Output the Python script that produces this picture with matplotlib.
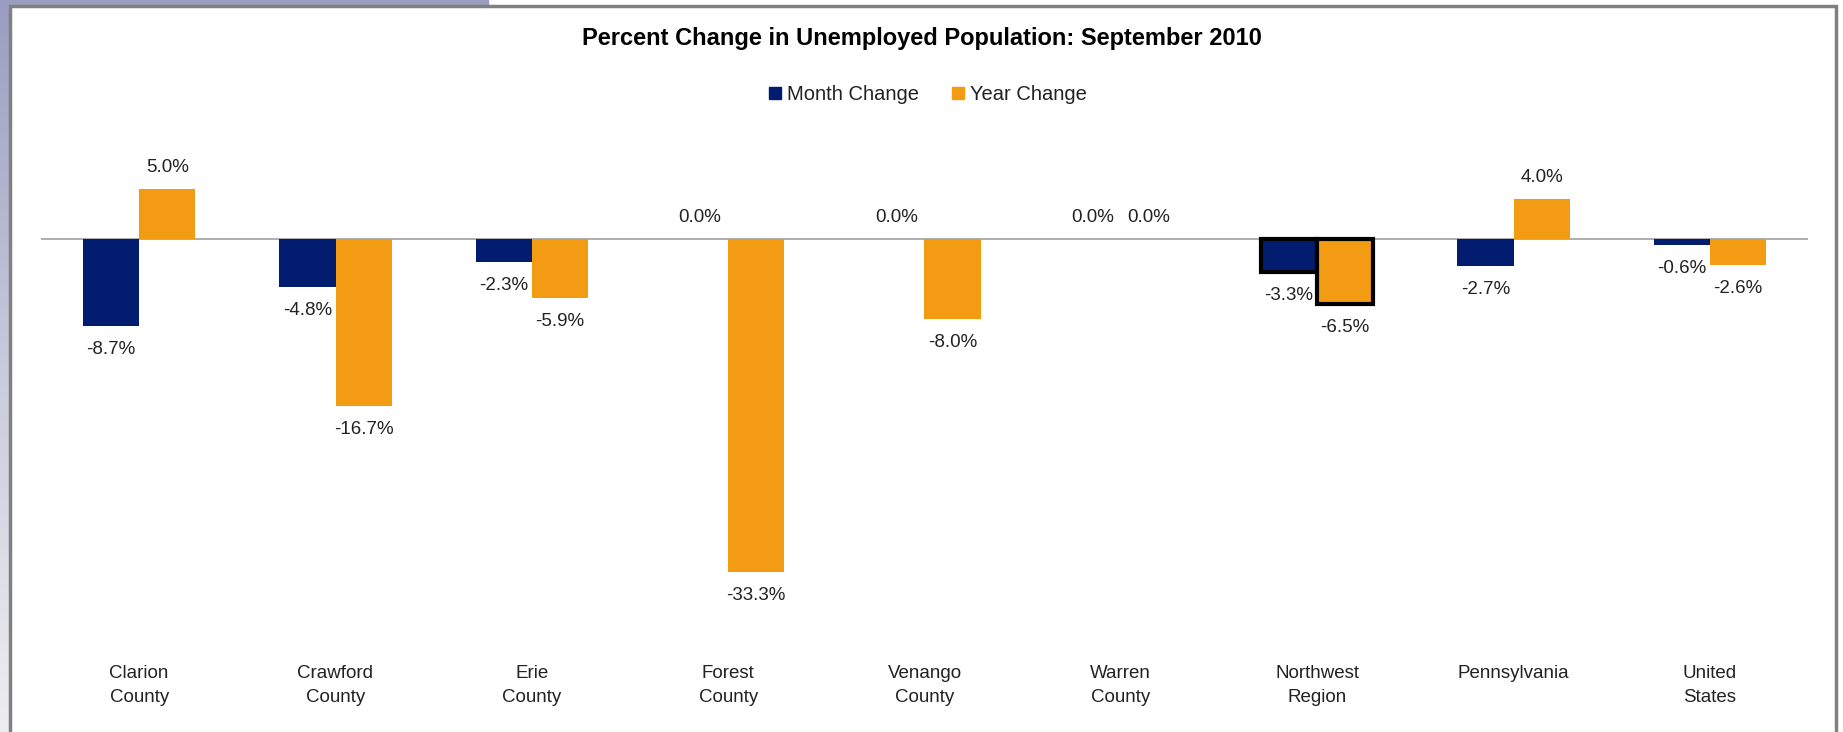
import matplotlib.pyplot as plt
import numpy as np
from matplotlib.lines import Line2D
from matplotlib.patches import Rectangle
from matplotlib.colors import LinearSegmentedColormap

plt.rcParams['font.family'] = ['Liberation Sans', 'DejaVu Sans']

# Data
regions = ['Clarion\nCounty', 'Crawford\nCounty', 'Erie\nCounty', 'Forest\nCounty',
           'Venango\nCounty', 'Warren\nCounty', 'Northwest\nRegion', 'Pennsylvania',
           'United\nStates']
month_change = [-8.7, -4.8, -2.3, 0.0, 0.0, 0.0, -3.3, -2.7, -0.6]
year_change = [5.0, -16.7, -5.9, -33.3, -8.0, 0.0, -6.5, 4.0, -2.6]
highlight = 'Northwest\nRegion'

navy = '#021d6f'
orange = '#f39c13'

W, H = 1843, 732
fig = plt.figure(figsize=(W / 100, H / 100), dpi=100)

# Slide background bits around the chart frame
grad = np.linspace(0, 1, 256).reshape(-1, 1)
bg = fig.add_axes([0, 0, 9 / W, 1])
bg.imshow(grad, aspect='auto', extent=[0, 1, 0, 1],
          cmap=LinearSegmentedColormap.from_list('strip', ['#9a9dc0', '#c9cadc', '#eeeef0']))
bg.axis('off')
fig.patches.append(Rectangle((0, 1 - 5 / H), 488 / W, 5 / H, transform=fig.transFigure,
                             color='#9a9dc0', zorder=0))
# Gray frame: left, top and right sides only (bottom is cut off)
fx0, fx1, fy = 10 / W, 1836 / W, 1 - 6 / H
fig.add_artist(Line2D([fx0, fx0, fx1, fx1], [0, fy, fy, 0], transform=fig.transFigure,
                      color='#808080', linewidth=2.5, solid_joinstyle='miter'))

ax = fig.add_axes([41 / W, 1 - 639 / H, 1767 / W, 500 / H])
x = np.arange(len(regions))
w = 0.286

for i, r in enumerate(regions):
    hl = r == highlight
    ec = 'black' if hl else 'none'
    lw = 3 if hl else 0
    ax.bar(x[i] - w / 2, month_change[i], w, color=navy, edgecolor=ec, linewidth=lw, zorder=3)
    ax.bar(x[i] + w / 2, year_change[i], w, color=orange, edgecolor=ec, linewidth=lw, zorder=3)

# Data labels
for xs, vals in [(x - w / 2, month_change), (x + w / 2, year_change)]:
    for xi, v in zip(xs, vals):
        if v < 0:
            ax.annotate(f'{v:.1f}%', (xi, v), xytext=(0, -11), textcoords='offset points',
                        ha='center', va='top', fontsize=13.5, color='#222222')
        else:
            ax.annotate(f'{v:.1f}%', (xi, v), xytext=(0, 9), textcoords='offset points',
                        ha='center', va='bottom', fontsize=13.5, color='#222222')

ax.axhline(0, color='#a0a0a0', linewidth=1.2, zorder=2)
ax.set_xlim(-0.5, len(regions) - 0.5)
ax.set_ylim(-40, 10)
ax.set_xticks(x)
ax.set_xticklabels(regions, fontsize=13.5, linespacing=1.6, color='#222222')
ax.tick_params(axis='x', length=0, pad=18.5)
ax.set_yticks([])
for s in ax.spines.values():
    s.set_visible(False)
ax.patch.set_alpha(0)

fig.text(0.5, 1 - 39 / H, 'Percent Change in Unemployed Population: September 2010',
         ha='center', va='center', fontsize=17, fontweight='bold')

handles = [Line2D([], [], marker='s', linestyle='none', color=navy, markersize=8),
           Line2D([], [], marker='s', linestyle='none', color=orange, markersize=8)]
fig.legend(handles, ['Month Change', 'Year Change'], loc='center',
           bbox_to_anchor=(926 / W, 1 - 95 / H), ncol=2, frameon=False, fontsize=14.5,
           handletextpad=0.1, columnspacing=1.4, handlelength=1.0,
           labelcolor='#222222')

fig.savefig('out.png', dpi=100)
